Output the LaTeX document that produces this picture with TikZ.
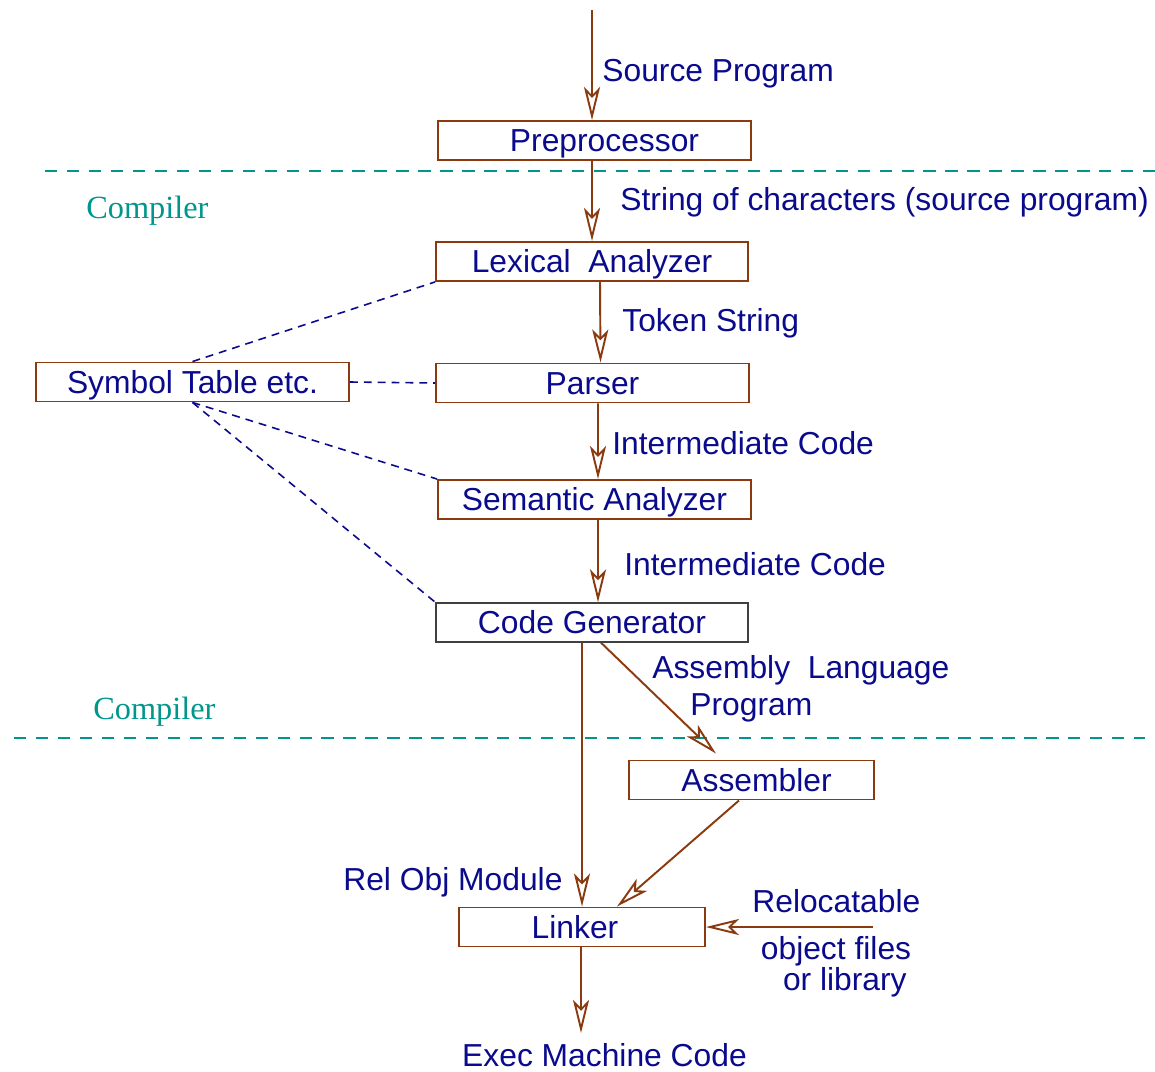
\documentclass[tikz,border=0pt]{standalone}
\usepackage{fontspec}
\setmainfont{Liberation Sans}
\newfontfamily\timesfont{Liberation Serif}
\usetikzlibrary{arrows.meta}

\definecolor{boxbrown}{RGB}{139,58,16}
\definecolor{textnavy}{RGB}{10,10,140}
\definecolor{lineteal}{RGB}{0,150,140}

\begin{document}
\begin{tikzpicture}[x=0.02cm,y=-0.02cm,
    box/.style={draw=boxbrown,line width=1.1pt,minimum height=0.78cm,inner sep=0pt,
      text height=13pt,text depth=0pt,text=textnavy,font=\fontsize{18.1}{21}\selectfont},
    lbl/.style={text=textnavy,inner sep=0pt,anchor=west,align=center,
      font=\fontsize{18.1}{21}\selectfont},
    flow/.style={draw=boxbrown,line width=1.1pt,
      -{Stealth[open,length=0.66cm,width=0.32cm,inset=0.16cm]}},
    symlink/.style={draw=textnavy,line width=0.9pt,dash pattern=on 4.5pt off 3.4pt},
    part/.style={draw=lineteal,line width=0.9pt,dash pattern=on 7pt off 5.5pt},
    partlbl/.style={text=lineteal,inner sep=0pt,anchor=west,
      font=\timesfont\fontsize{18.4}{21}\selectfont}]
        \useasboundingbox (0,0) rectangle (1155,1071);

        % Boxes
        \node[box,minimum width=6.26cm] (pre) at (594.5,140.5) {\hspace*{0.4cm}Preprocessor};
        \node[box,minimum width=6.24cm] (lex) at (592,261.5) {Lexical\ \ Analyzer};
        \node[box,minimum width=6.26cm] (parser) at (592.5,383) {Parser};
        \node[box,minimum width=6.26cm] (sym) at (192.5,382) {Symbol Table etc.};
        \node[box,minimum width=6.26cm] (sem) at (594.5,499.5) {Semantic Analyzer};
        \node[box,minimum width=6.24cm,draw=black!75,line width=0.8pt] (code) at (592,622.5) {Code Generator};
        \node[box,minimum width=4.9cm] (asm) at (751.5,780) {\hspace*{0.2cm}Assembler};
        \node[box,minimum width=4.92cm] (link) at (582,927) {Linker\hspace*{0.28cm}};

        % Compiler boundaries
        \draw[part] (45,171) -- (1155,171);
        \draw[part] (14,738) -- (1145,738);
        \node[partlbl] (comp1) at (86,211) {Compiler};
        \node[partlbl] (comp2) at (93,712) {Compiler};

        % Main flow
        \coordinate (src) at (592,10);
        \coordinate (lib) at (873,927);
        \coordinate (exe) at (581,1033);
        \draw[flow] (src) -- (src |- pre.north);
        \draw[flow] ([xshift=-0.05cm]pre.south) -- (lex.north);
        \draw[flow] ([xshift=0.16cm]lex.south) -- ([xshift=0.16cm]parser.north);
        \draw[flow] ([xshift=0.11cm]parser.south) -- ([xshift=0.07cm]sem.north);
        \draw[flow] ([xshift=0.07cm]sem.south) -- ([xshift=0.12cm]code.north);
        \draw[flow] (code.south -| link) -- (link.north);
        \draw[flow] ([xshift=0.18cm]code.south) -- ([xshift=-0.71cm,yshift=0.12cm]asm.north);
        \draw[flow] ([xshift=-0.25cm]asm.south) -- ([xshift=0.7cm]link.north);
        \draw[flow] (lib) -- (link.east);
        \draw[flow] (link.south -| exe) -- (exe);

        % Symbol table links
        \draw[symlink] (sym.north) -- (lex.south west);
        \draw[symlink] (sym.east) -- (parser.west);
        \draw[symlink] (sym.south) -- (sem.north west);
        \draw[symlink] (sym.south) -- (code.north west);

        % Labels
        \node[lbl] (srclbl) at (602,74) {Source Program};
        \node[lbl] (strlbl) at (620,202) {String of characters (source program)};
        \node[lbl] (toklbl) at (622,323) {Token String};
        \node[lbl] (imlbl) at (612,443) {Intermediate Code};
        \node[lbl] (imlbl2) at (624,564) {Intermediate Code};
        \node[lbl,anchor=north west,align=left,font=\fontsize{18.1}{21}\selectfont] (asmlbl) at (652,655)
          {Assembly\ \ Language\\\hspace*{0.76cm}Program};
        \node[lbl] (rellbl) at (343,882) {Rel Obj Module};
        \node[lbl] (reloc) at (752,901) {Relocatable};
        \node[lbl,anchor=north,font=\fontsize{18.1}{17.5}\selectfont] (objlbl) at (836,936)
          {object files\\\ \ or library};
        \node[lbl,anchor=center] (exelbl) at (604.5,1055) {Exec Machine Code};
      \end{tikzpicture}
\end{document}
